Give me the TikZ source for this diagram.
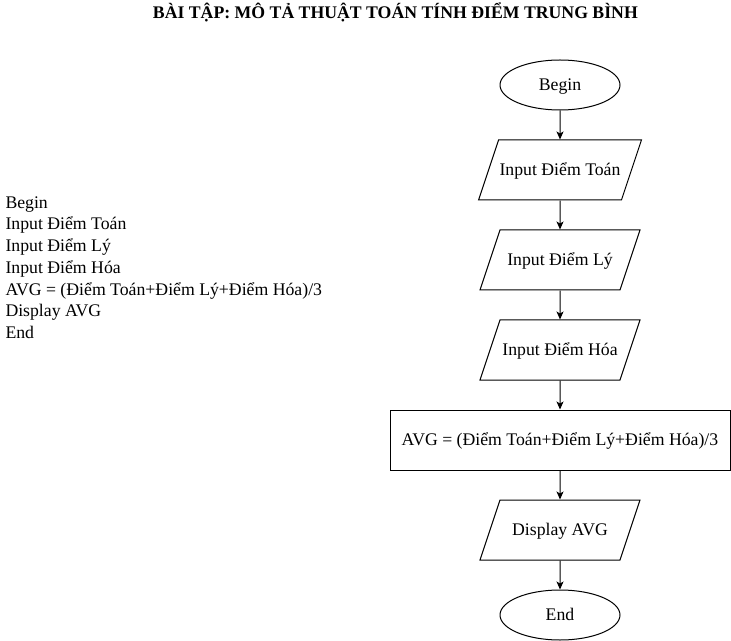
\documentclass[tikz,border=0pt]{standalone}
\usepackage{fontspec}
\setmainfont{Liberation Serif}
\usetikzlibrary{shapes.geometric,arrows.meta}

\tikzset{every picture/.style={line width=0.75pt}}
\tikzset{
  terminal/.style={draw, ellipse, minimum width=90pt, minimum height=37.5pt, text height=10pt, text depth=2pt, inner sep=0.75pt, font=\fontsize{13.3}{16}\selectfont},
  inout/.style={draw, trapezium, trapezium left angle=71.57, trapezium right angle=108.43, trapezium stretches body, text height=10pt, text depth=2pt, inner xsep=0.75pt, inner ysep=16.5pt, minimum width=120pt, font=\fontsize{13.3}{16}\selectfont},
  process/.style={draw, rectangle, minimum width=255pt, minimum height=45pt, text height=10pt, text depth=2pt, inner sep=0.75pt, font=\fontsize{13.3}{16}\selectfont},
  flow/.style={-{Stealth[length=6pt,width=5.25pt,inset=1.5pt]}}
}

\begin{document}
\begin{tikzpicture}[x=0.75pt,y=0.75pt,yscale=-1,xscale=1]
\useasboundingbox (0,0) rectangle (731,641);

% Text Node
\node (title) at (395.4,19) [anchor=base][inner sep=0.75pt] [font=\fontsize{13.3}{16}\selectfont\bfseries] {BÀI TẬP: MÔ TẢ THUẬT TOÁN TÍNH ĐIỂM TRUNG BÌNH};
% Text Node
\node (pseudo) at (4,195) [anchor=north west][inner sep=0.75pt] [font=\fontsize{13.3}{16.3}\selectfont] [align=left] {Begin\\Input Điểm Toán\\Input Điểm Lý\\Input Điểm Hóa\\AVG = (Điểm Toán+Điểm Lý+Điểm Hóa)/3\\Display AVG\\End};

%Shape: Ellipse
\node (begin) at (560,85) [terminal] {Begin};
%Shape: Parallelogram
\node (toan) at (560,170) [inout] {Input Điểm Toán};
%Shape: Parallelogram
\node (ly) at (560,260) [inout] {Input Điểm Lý};
%Shape: Parallelogram
\node (hoa) at (560,350) [inout] {Input Điểm Hóa};
%Shape: Rectangle
\node (avg) at (560,440) [process] {AVG = (Điểm Toán+Điểm Lý+Điểm Hóa)/3};
%Shape: Parallelogram
\node (display) at (560,530) [inout] {Display AVG};
%Shape: Ellipse
\node (end) at (560,615) [terminal] {End};

%Straight Lines
\draw [flow] (begin) -- (toan) ;
\draw [flow] (toan) -- (ly) ;
\draw [flow] (ly) -- (hoa) ;
\draw [flow] (hoa) -- (avg) ;
\draw [flow] (avg) -- (display) ;
\draw [flow] (display) -- (end) ;

\end{tikzpicture}
\end{document}
